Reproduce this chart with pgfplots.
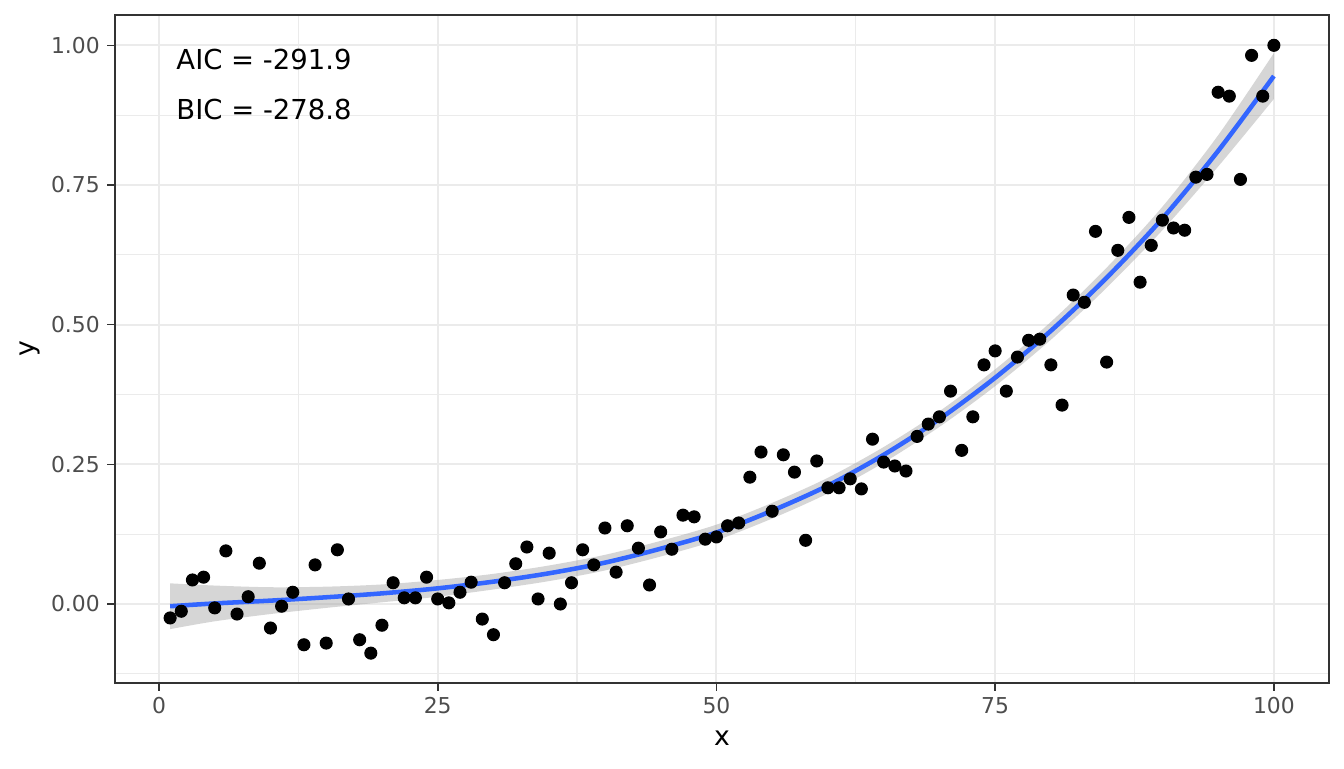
\documentclass[border=0pt]{standalone}
\usepackage{pgfplots}
\pgfplotsset{compat=1.18}
\usepackage{pgfplotstable}
\usepgfplotslibrary{fillbetween}
\usepackage{fontspec}
\setmainfont{DejaVu Sans}
\definecolor{gridc}{HTML}{EBEBEB}
\definecolor{framec}{HTML}{333333}
\definecolor{tickc}{HTML}{4D4D4D}
\definecolor{bandc}{HTML}{999999}
\definecolor{linec}{HTML}{3366FF}

\pgfplotstableread{
x y
1 -0.025
2 -0.013
3 0.043
4 0.048
5 -0.007
6 0.095
7 -0.018
8 0.013
9 0.073
10 -0.043
11 -0.004
12 0.021
13 -0.073
14 0.070
15 -0.070
16 0.097
17 0.009
18 -0.064
19 -0.088
20 -0.038
21 0.038
22 0.011
23 0.011
24 0.048
25 0.009
26 0.002
27 0.021
28 0.039
29 -0.027
30 -0.055
31 0.038
32 0.072
33 0.102
34 0.009
35 0.091
36 0.000
37 0.038
38 0.097
39 0.070
40 0.136
41 0.057
42 0.140
43 0.100
44 0.034
45 0.129
46 0.098
47 0.159
48 0.156
49 0.116
50 0.120
51 0.140
52 0.145
53 0.227
54 0.272
55 0.166
56 0.267
57 0.236
58 0.114
59 0.256
60 0.208
61 0.208
62 0.224
63 0.206
64 0.295
65 0.254
66 0.247
67 0.238
68 0.300
69 0.322
70 0.335
71 0.381
72 0.275
73 0.335
74 0.428
75 0.453
76 0.381
77 0.442
78 0.472
79 0.474
80 0.428
81 0.356
82 0.553
83 0.540
84 0.667
85 0.433
86 0.633
87 0.692
88 0.576
89 0.642
90 0.687
91 0.673
92 0.669
93 0.764
94 0.769
95 0.916
96 0.909
97 0.760
98 0.982
99 0.909
100 1.000
}\pts

\pgfplotstableread{
x c lo hi
1 -0.004 -0.045 0.037
5 0.001 -0.031 0.033
10 0.006 -0.018 0.030
15 0.012 -0.007 0.031
20 0.019 0.003 0.035
25 0.028 0.013 0.043
30 0.040 0.026 0.054
35 0.055 0.041 0.069
40 0.074 0.060 0.088
45 0.099 0.085 0.113
50 0.128 0.114 0.142
55 0.167 0.153 0.181
60 0.212 0.198 0.226
65 0.267 0.253 0.281
70 0.331 0.317 0.345
75 0.405 0.390 0.420
80 0.489 0.473 0.505
85 0.584 0.566 0.602
90 0.690 0.669 0.711
95 0.811 0.783 0.839
100 0.945 0.904 0.986
}\fit

\begin{document}
\begin{tikzpicture}
\begin{axis}[
  scale only axis,
  width=455.25pt, height=250.5pt,
  xmin=-3.95, xmax=104.95, ymin=-0.1414, ymax=1.0544,
  axis line style={color=framec, line width=0.6pt},
  xtick={0,25,50,75,100},
  xticklabels={0,25,50,75,100},
  minor xtick={12.5,37.5,62.5,87.5},
  ytick={0,0.25,0.5,0.75,1},
  yticklabels={0.00,0.25,0.50,0.75,1.00},
  minor ytick={-0.125,0.125,0.375,0.625,0.875},
  tick align=outside,
  major tick length=2.9pt,
  minor tick length=0pt,
  tick style={color=framec, line width=0.6pt},
  xtick pos=bottom, ytick pos=left,
  grid=both,
  major grid style={color=gridc, line width=0.75pt},
  minor grid style={color=gridc, line width=0.45pt},
  tick label style={font=\fontsize{8.2}{9.8}\selectfont, text=tickc},
  yticklabel style={inner sep=0pt, xshift=-2.6pt},
  xticklabel style={inner sep=0pt, yshift=-2.3pt, anchor=north},
  xlabel={x}, ylabel={y},
  label style={font=\fontsize{10}{12}\selectfont},
  xlabel style={at={(axis description cs:0.5,0)}, anchor=center, yshift=-20.6pt},
  ylabel style={at={(axis description cs:0,0.5)}, anchor=center, yshift=31.9pt},
]
\addplot[only marks, mark=*, mark size=2.25pt, mark options={fill=black, draw=none}] table[x=x,y=y]{\pts};
\addplot[name path=hi, draw=none, smooth, forget plot] table[x=x,y=hi]{\fit};
\addplot[name path=lo, draw=none, smooth, forget plot] table[x=x,y=lo]{\fit};
\addplot[fill=bandc, fill opacity=0.4, draw=none] fill between[of=hi and lo];
\addplot[color=linec, line width=1.7pt, smooth, no marks] table[x=x,y=c]{\fit};
\node[anchor=west, inner sep=0pt, font=\fontsize{10.3}{12}\selectfont] at (axis cs:1.52,0.974) {AIC = -291.9};
\node[anchor=west, inner sep=0pt, font=\fontsize{10.3}{12}\selectfont] at (axis cs:1.52,0.885) {BIC = -278.8};
\end{axis}
\pgfresetboundingbox
\path ([xshift=-43.1pt,yshift=-31.9pt]current axis.south west) rectangle ([xshift=5.6pt,yshift=5.6pt]current axis.north east);
\end{tikzpicture}
\end{document}
